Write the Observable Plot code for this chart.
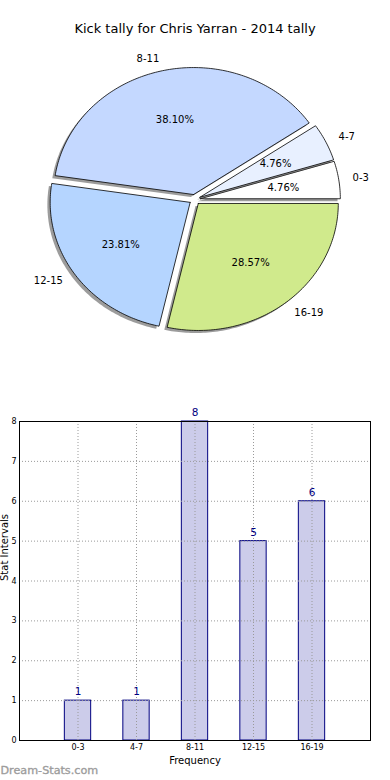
<!DOCTYPE html>
<html>
<head>
<meta charset="utf-8">
<script src="https://cdn.jsdelivr.net/npm/d3@7"></script>
<script src="https://cdn.jsdelivr.net/npm/@observablehq/plot@0.6"></script>
<style>
  html, body { margin: 0; padding: 0; background: #fff; }
  body { width: 390px; height: 780px; overflow: hidden; font-family: "DejaVu Sans", sans-serif; }
  #title { height: 40px; box-sizing: border-box; padding-top: 21px; line-height: 16px; font-size: 13px; text-align: center; color: #000; }
  svg { display: block; }
</style>
</head>
<body>
<div id="title">Kick tally for Chris Yarran - 2014 tally</div>
<div id="pie"></div>
<div id="bar"></div>
<script>
// ---- data ----
const categories = ["0-3", "4-7", "8-11", "12-15", "16-19"];
const counts = [1, 1, 8, 5, 6];
const yTicks = [0, 1, 2, 3, 4, 5, 6, 7, 8];
const titleText = "Kick tally for Chris Yarran - 2014 tally";
const xLabel = "Frequency";
const yLabel = "Stat Intervals";
const watermark = "Dream-Stats.com";

// ---- styles ----
const sliceColors = ["#ffffff", "#e8f0ff", "#c4d8ff", "#b5d5ff", "#d0ea8c"];
const explode = 0.04;
const shadowOffset = 0.02;

// ---- pie geometry (derived from counts) ----
const total = d3.sum(counts);
let acc = 0;
const slices = categories.map((c, i) => {
  const a0 = acc / total * 2 * Math.PI;
  acc += counts[i];
  const a1 = acc / total * 2 * Math.PI;
  const mid = (a0 + a1) / 2;
  const ox = explode * Math.cos(mid), oy = explode * Math.sin(mid);
  const n = Math.max(4, Math.ceil((a1 - a0) / (Math.PI / 180)));
  const pts = [{x: ox, y: oy}];
  for (let k = 0; k <= n; k++) {
    const a = a0 + (a1 - a0) * k / n;
    pts.push({x: ox + Math.cos(a), y: oy + Math.sin(a)});
  }
  pts.push({x: ox, y: oy});
  return {
    category: c, count: counts[i], mid, ox, oy, pts,
    shadow: pts.map(p => ({x: p.x - shadowOffset, y: p.y - shadowOffset})),
    pct: d3.format(".2f")(counts[i] / total * 100) + "%",
    lx: ox + 1.1 * Math.cos(mid), ly: oy + 1.1 * Math.sin(mid),
    px: ox + 0.6 * Math.cos(mid), py: oy + 0.6 * Math.sin(mid)
  };
});

const pieW = 390, pieH = 350;
const cx = 194.3, cy = 159, rx = 140, ry = 127;
const pieMarks = [];
slices.forEach((s, i) => {
  pieMarks.push(Plot.line(s.shadow, {x: "x", y: "y", fill: "#3a3a3a", fillOpacity: 0.5, stroke: "none", curve: "linear"}));
  pieMarks.push(Plot.line(s.pts, {x: "x", y: "y", fill: sliceColors[i], stroke: "#000", strokeWidth: 0.8, curve: "linear"}));
});
pieMarks.push(Plot.text(slices.filter(s => Math.cos(s.mid) > 0), {x: "lx", y: "ly", text: "category", textAnchor: "start", fontSize: 10, fill: "#000"}));
pieMarks.push(Plot.text(slices.filter(s => Math.cos(s.mid) <= 0), {x: "lx", y: "ly", text: "category", textAnchor: "end", fontSize: 10, fill: "#000"}));
pieMarks.push(Plot.text(slices, {x: "px", y: "py", text: "pct", textAnchor: "middle", fontSize: 10, fill: "#000"}));

const pie = Plot.plot({
  width: pieW, height: pieH, margin: 0,
  style: {fontFamily: "DejaVu Sans, sans-serif", background: "transparent"},
  x: {domain: [-cx / rx, (pieW - cx) / rx], axis: null},
  y: {domain: [-(pieH - cy) / ry, cy / ry], axis: null},
  marks: pieMarks
});
document.getElementById("pie").appendChild(pie);

// ---- bar chart ----
const barData = categories.map((c, i) => ({category: c, count: counts[i]}));
const bar = Plot.plot({
  width: 390, height: 390,
  marginTop: 31, marginBottom: 40, marginLeft: 19, marginRight: 20,
  style: {fontFamily: "DejaVu Sans, sans-serif", fontSize: "8px", background: "transparent", overflow: "visible"},
  x: {type: "band", domain: categories, paddingInner: 0.55, paddingOuter: 0.775, align: 0.5, round: false,
      tickSize: 0, tickPadding: 4, label: null},
  y: {domain: [0, 8], ticks: yTicks, tickSize: 0, tickPadding: 3, label: null},
  marks: [
    Plot.barY(barData, {x: "category", y: "count", fill: "#ccccea", stroke: "#000080", strokeWidth: 1}),
    Plot.ruleY(yTicks.slice(1, -1), {stroke: "#9a9a9a", strokeDasharray: "1,2", strokeWidth: 1}),
    Plot.ruleX(categories, {stroke: "#9a9a9a", strokeDasharray: "1,2", strokeWidth: 1}),
    Plot.frame({stroke: "#000", strokeWidth: 1}),
    Plot.text(barData, {x: "category", y: "count", text: d => String(d.count), dy: -9, fill: "#000080", fontSize: 10.5}),
    Plot.text([xLabel], {frameAnchor: "bottom", dy: 23, fontSize: 10, fill: "#000"}),
    Plot.text([yLabel], {frameAnchor: "left", rotate: -90, dx: -14.5, fontSize: 10, fill: "#000"}),
    Plot.text([watermark], {frameAnchor: "bottom-left", textAnchor: "start", dx: -19, dy: 33, fontSize: 11.2, fill: "#9c9c9c", stroke: "#9c9c9c", strokeWidth: 0.35})
  ]
});
document.getElementById("bar").appendChild(bar);
</script>
</body>
</html>
